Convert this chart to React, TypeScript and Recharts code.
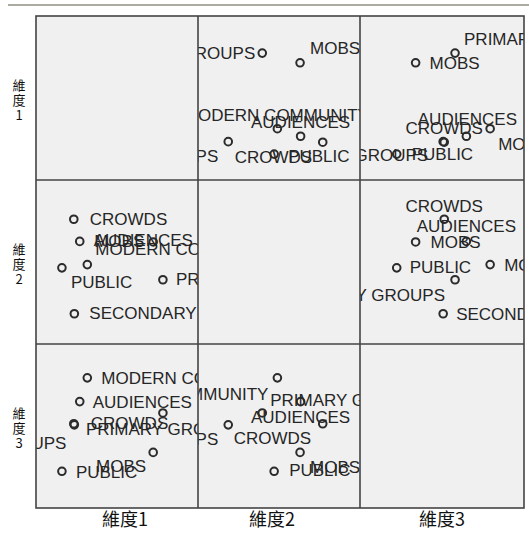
import React from "react";
import { ScatterChart, Scatter, XAxis, YAxis } from "recharts";

// common space coordinates
const objects = ["CROWDS", "AUDIENCES", "MOBS", "PUBLIC", "PRIMARY GROUPS", "SECONDARY GROUPS", "MODERN COMMUNITY"];
const dim1 = [-0.8, -0.69, 0.67, -1.02, 0.85, -0.79, -0.55];
const dim2 = [0.81, 0.4, 0.39, -0.09, -0.31, -0.94, -0.03];
const dim3 = [0.06, 0.47, -0.47, -0.82, 0.26, 0.04, 0.91];
const dimNames = ["維度1", "維度2", "維度3"];

const dims = [dim1, dim2, dim3];

// layout of the matrix
const colX = [36, 198, 360];
const colW = [162, 162, 164];
const rowY = [16, 180, 344];
const rowH = [164, 164, 164];
const PX_PER_UNIT = 54;
const LOW = -1.5;
const FONT = "'Liberation Sans', Arial, sans-serif";
const CJK = "'Noto Sans CJK TC', 'Noto Sans CJK SC', sans-serif";

type Place = [number, number, "start" | "middle" | "end"];

// label offsets per cell, same order as objects
const labelPlace: Record<string, Place[]> = {
  "0-1": [[-88, 21, "start"], [0, -8, "middle"], [10, -9, "start"], [14, 8, "start"], [-7, 6, "end"], [-10, 20, "end"], [-1, -8, "middle"]],
  "0-2": [[0, -8, "middle"], [1, -11, "middle"], [14, 6, "start"], [15, 6, "start"], [9, -8, "start"], [-15, 19, "end"], [8, 21, "start"]],
  "1-0": [[16, 6, "start"], [14, 5, "start"], [-59, 5, "start"], [9, 20, "start"], [13, 5, "start"], [15, 5, "start"], [8, -10, "start"]],
  "1-2": [[0, -7, "middle"], [0, -9, "middle"], [15, 6, "start"], [13, 5, "start"], [-10, 21, "end"], [13, 6, "start"], [14, 6, "start"]],
  "2-0": [[17, 5, "start"], [13, 6, "start"], [-7, 20, "end"], [14, 7, "start"], [-77, 22, "start"], [-8, 24, "end"], [14, 6, "start"]],
  "2-1": [[-89, 20, "start"], [0, 21, "middle"], [10, 21, "start"], [15, 5, "start"], [8, -7, "start"], [-10, 20, "end"], [-9, 22, "end"]],
};

function Mark(props: any) {
  const { cx, cy, payload, place } = props;
  const [dx, dy, anchor] = place[payload.i] as Place;
  return (
    <g>
      <circle cx={cx} cy={cy} r={3.8} fill="none" stroke="#2b2b2b" strokeWidth={2} />
      <text x={cx + dx} y={cy + dy} textAnchor={anchor} fontSize={17} fontFamily={FONT} fill="#262626">
        {payload.name}
      </text>
    </g>
  );
}

function Cell({ row, col }: { row: number; col: number }) {
  const w = colW[col];
  const h = rowH[row];
  const data = objects.map((name, i) => ({ name, i, x: dims[col][i], y: dims[row][i] }));
  const place = labelPlace[`${row}-${col}`];
  return (
    <div style={{ position: "absolute", left: colX[col], top: rowY[row], width: w, height: h, overflow: "hidden" }}>
      <ScatterChart width={w} height={h} margin={{ top: 0, right: 0, bottom: 0, left: 0 }}>
        <XAxis type="number" dataKey="x" domain={[LOW, LOW + w / PX_PER_UNIT]} hide allowDataOverflow />
        <YAxis type="number" dataKey="y" domain={[LOW, LOW + h / PX_PER_UNIT]} hide allowDataOverflow />
        <Scatter data={data} isAnimationActive={false} shape={(p: any) => <Mark {...p} place={place} />} />
      </ScatterChart>
    </div>
  );
}

export default function App() {
  const left = colX[0];
  const top = rowY[0];
  const right = colX[2] + colW[2];
  const bottom = rowY[2] + rowH[2];
  const xTitleX = [125, 272, 442];
  const cells: { row: number; col: number }[] = [];
  for (let r = 0; r < 3; r++) for (let c = 0; c < 3; c++) if (r !== c) cells.push({ row: r, col: c });

  return (
    <div style={{ position: "absolute", left: 0, top: 0, width: 529, height: 538, background: "#fff" }}>
      <div style={{ position: "absolute", left, top, width: right - left, height: bottom - top, background: "#f0f0f0" }} />
      {cells.map((c) => (
        <Cell key={`${c.row}-${c.col}`} row={c.row} col={c.col} />
      ))}
      <svg width={529} height={538} style={{ position: "absolute", left: 0, top: 0, pointerEvents: "none" }}>
        <line x1={8} y1={5} x2={529} y2={5} stroke="#8f8f82" strokeWidth={1.5} />
        <rect x={left} y={top} width={right - left} height={bottom - top} fill="none" stroke="#444" strokeWidth={1.6} />
        {[colX[1], colX[2]].map((x) => (
          <line key={x} x1={x} y1={top} x2={x} y2={bottom} stroke="#444" strokeWidth={1.6} />
        ))}
        {[rowY[1], rowY[2]].map((y) => (
          <line key={y} x1={left} y1={y} x2={right} y2={y} stroke="#444" strokeWidth={1.6} />
        ))}
        {dimNames.map((n, i) => {
          const c = rowY[i] + rowH[i] / 2 + 1;
          return (
            <text key={`y${i}`} x={19} textAnchor="middle" fontSize={13} fontFamily={CJK} fill="#111">
              <tspan x={19} y={c - 9}>{n[0]}</tspan>
              <tspan x={19} y={c + 6}>{n[1]}</tspan>
              <tspan x={19} y={c + 21}>{n.slice(2)}</tspan>
            </text>
          );
        })}
        {dimNames.map((n, i) => (
          <text key={`x${i}`} x={xTitleX[i]} y={526} textAnchor="middle" fontSize={18} fontFamily={CJK} fill="#111">
            {n}
          </text>
        ))}
      </svg>
    </div>
  );
}
